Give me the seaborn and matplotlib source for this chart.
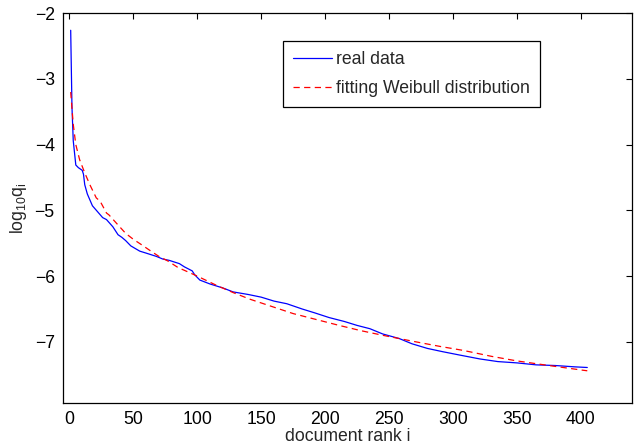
import numpy as np
import pandas as pd
import seaborn as sns
import matplotlib
matplotlib.use("Agg")
import matplotlib.pyplot as plt

# values
real_rank = [1, 2, 3, 5, 7, 10, 11, 12, 14, 16, 18, 22, 26, 29, 34, 38, 41, 44, 48, 55,
             60, 68, 73, 78, 86, 90, 96, 98, 102, 110, 120, 128, 140, 150, 160, 170, 182,
             192, 203, 215, 225, 235, 245, 258, 268, 280, 292, 305, 321, 335, 350, 365,
             380, 395, 405]
real_logq = [-2.26, -3.43, -3.94, -4.31, -4.35, -4.39, -4.45, -4.61, -4.75, -4.84, -4.93,
             -5.02, -5.11, -5.14, -5.25, -5.37, -5.41, -5.46, -5.54, -5.62, -5.65, -5.70,
             -5.74, -5.76, -5.81, -5.86, -5.92, -5.98, -6.06, -6.12, -6.18, -6.24, -6.28,
             -6.32, -6.38, -6.42, -6.50, -6.56, -6.63, -6.69, -6.75, -6.80, -6.88, -6.95,
             -7.03, -7.10, -7.15, -7.20, -7.26, -7.30, -7.32, -7.35, -7.36, -7.38, -7.39]

fit_rank = [1, 3, 5, 8, 12, 16, 21, 24, 29, 31, 37, 44, 50, 57, 63, 70, 77, 85, 92, 100,
            115, 128, 141, 158, 175, 193, 211, 228, 245, 271, 290, 308, 330, 350, 375,
            401, 405]
fit_logq = [-3.20, -3.69, -4.00, -4.23, -4.43, -4.61, -4.81, -4.86, -5.04, -5.07, -5.20,
            -5.35, -5.44, -5.53, -5.61, -5.70, -5.77, -5.87, -5.93, -6.00, -6.14, -6.25,
            -6.35, -6.46, -6.57, -6.66, -6.75, -6.83, -6.90, -7.00, -7.07, -7.13, -7.22,
            -7.29, -7.36, -7.43, -7.44]

x_ticks = [0, 50, 100, 150, 200, 250, 300, 350, 400]
y_ticks = [-7, -6, -5, -4, -3, -2]

fs = 12.7

sns.set_style("white")
plt.rcParams['font.family'] = ['Liberation Sans', 'DejaVu Sans']
plt.rcParams['mathtext.fontset'] = 'custom'
plt.rcParams['mathtext.rm'] = 'Liberation Sans'
plt.rcParams['mathtext.it'] = 'Liberation Sans'

fig = plt.figure(figsize=(6.34, 4.45), dpi=100)
ax = fig.add_axes([0.0994, 0.0944, 0.8975, 0.876])

real = pd.DataFrame({"rank": real_rank, "logq": real_logq})
fit = pd.DataFrame({"rank": fit_rank, "logq": fit_logq})

sns.lineplot(data=real, x="rank", y="logq", ax=ax, color="#0000ff", lw=0.9,
             label="real data")
sns.lineplot(data=fit, x="rank", y="logq", ax=ax, color="#ff0000", lw=0.9,
             label="fitting Weibull distribution")
ax.lines[1].set_dashes((5, 3.5))

ax.set_xlim(-5, 440)
ax.set_ylim(-7.93, -2)
ax.set_xticks(x_ticks)
ax.set_yticks(y_ticks)
ax.set_yticklabels(["\u2212%d" % abs(v) for v in y_ticks])
ax.tick_params(direction="in", length=4, width=0.8, top=True, right=True,
               labelsize=fs, colors="black", pad=6)
for s in ax.spines.values():
    s.set_visible(True)
    s.set_color("black")
    s.set_linewidth(0.9)

ax.set_xlabel("document rank i", fontsize=fs, labelpad=0)
ax.set_ylabel(r"$\mathregular{log_{10}q_i}$", fontsize=fs, labelpad=4)

leg = ax.legend(loc="upper right", bbox_to_anchor=(0.838, 0.928), borderaxespad=0,
                fontsize=fs, fancybox=False, framealpha=1, edgecolor="black",
                handlelength=2.2, handletextpad=0.25, borderpad=0.55, labelspacing=0.7)
leg.get_frame().set_linewidth(0.9)

fig.savefig("out.png", dpi=100)
